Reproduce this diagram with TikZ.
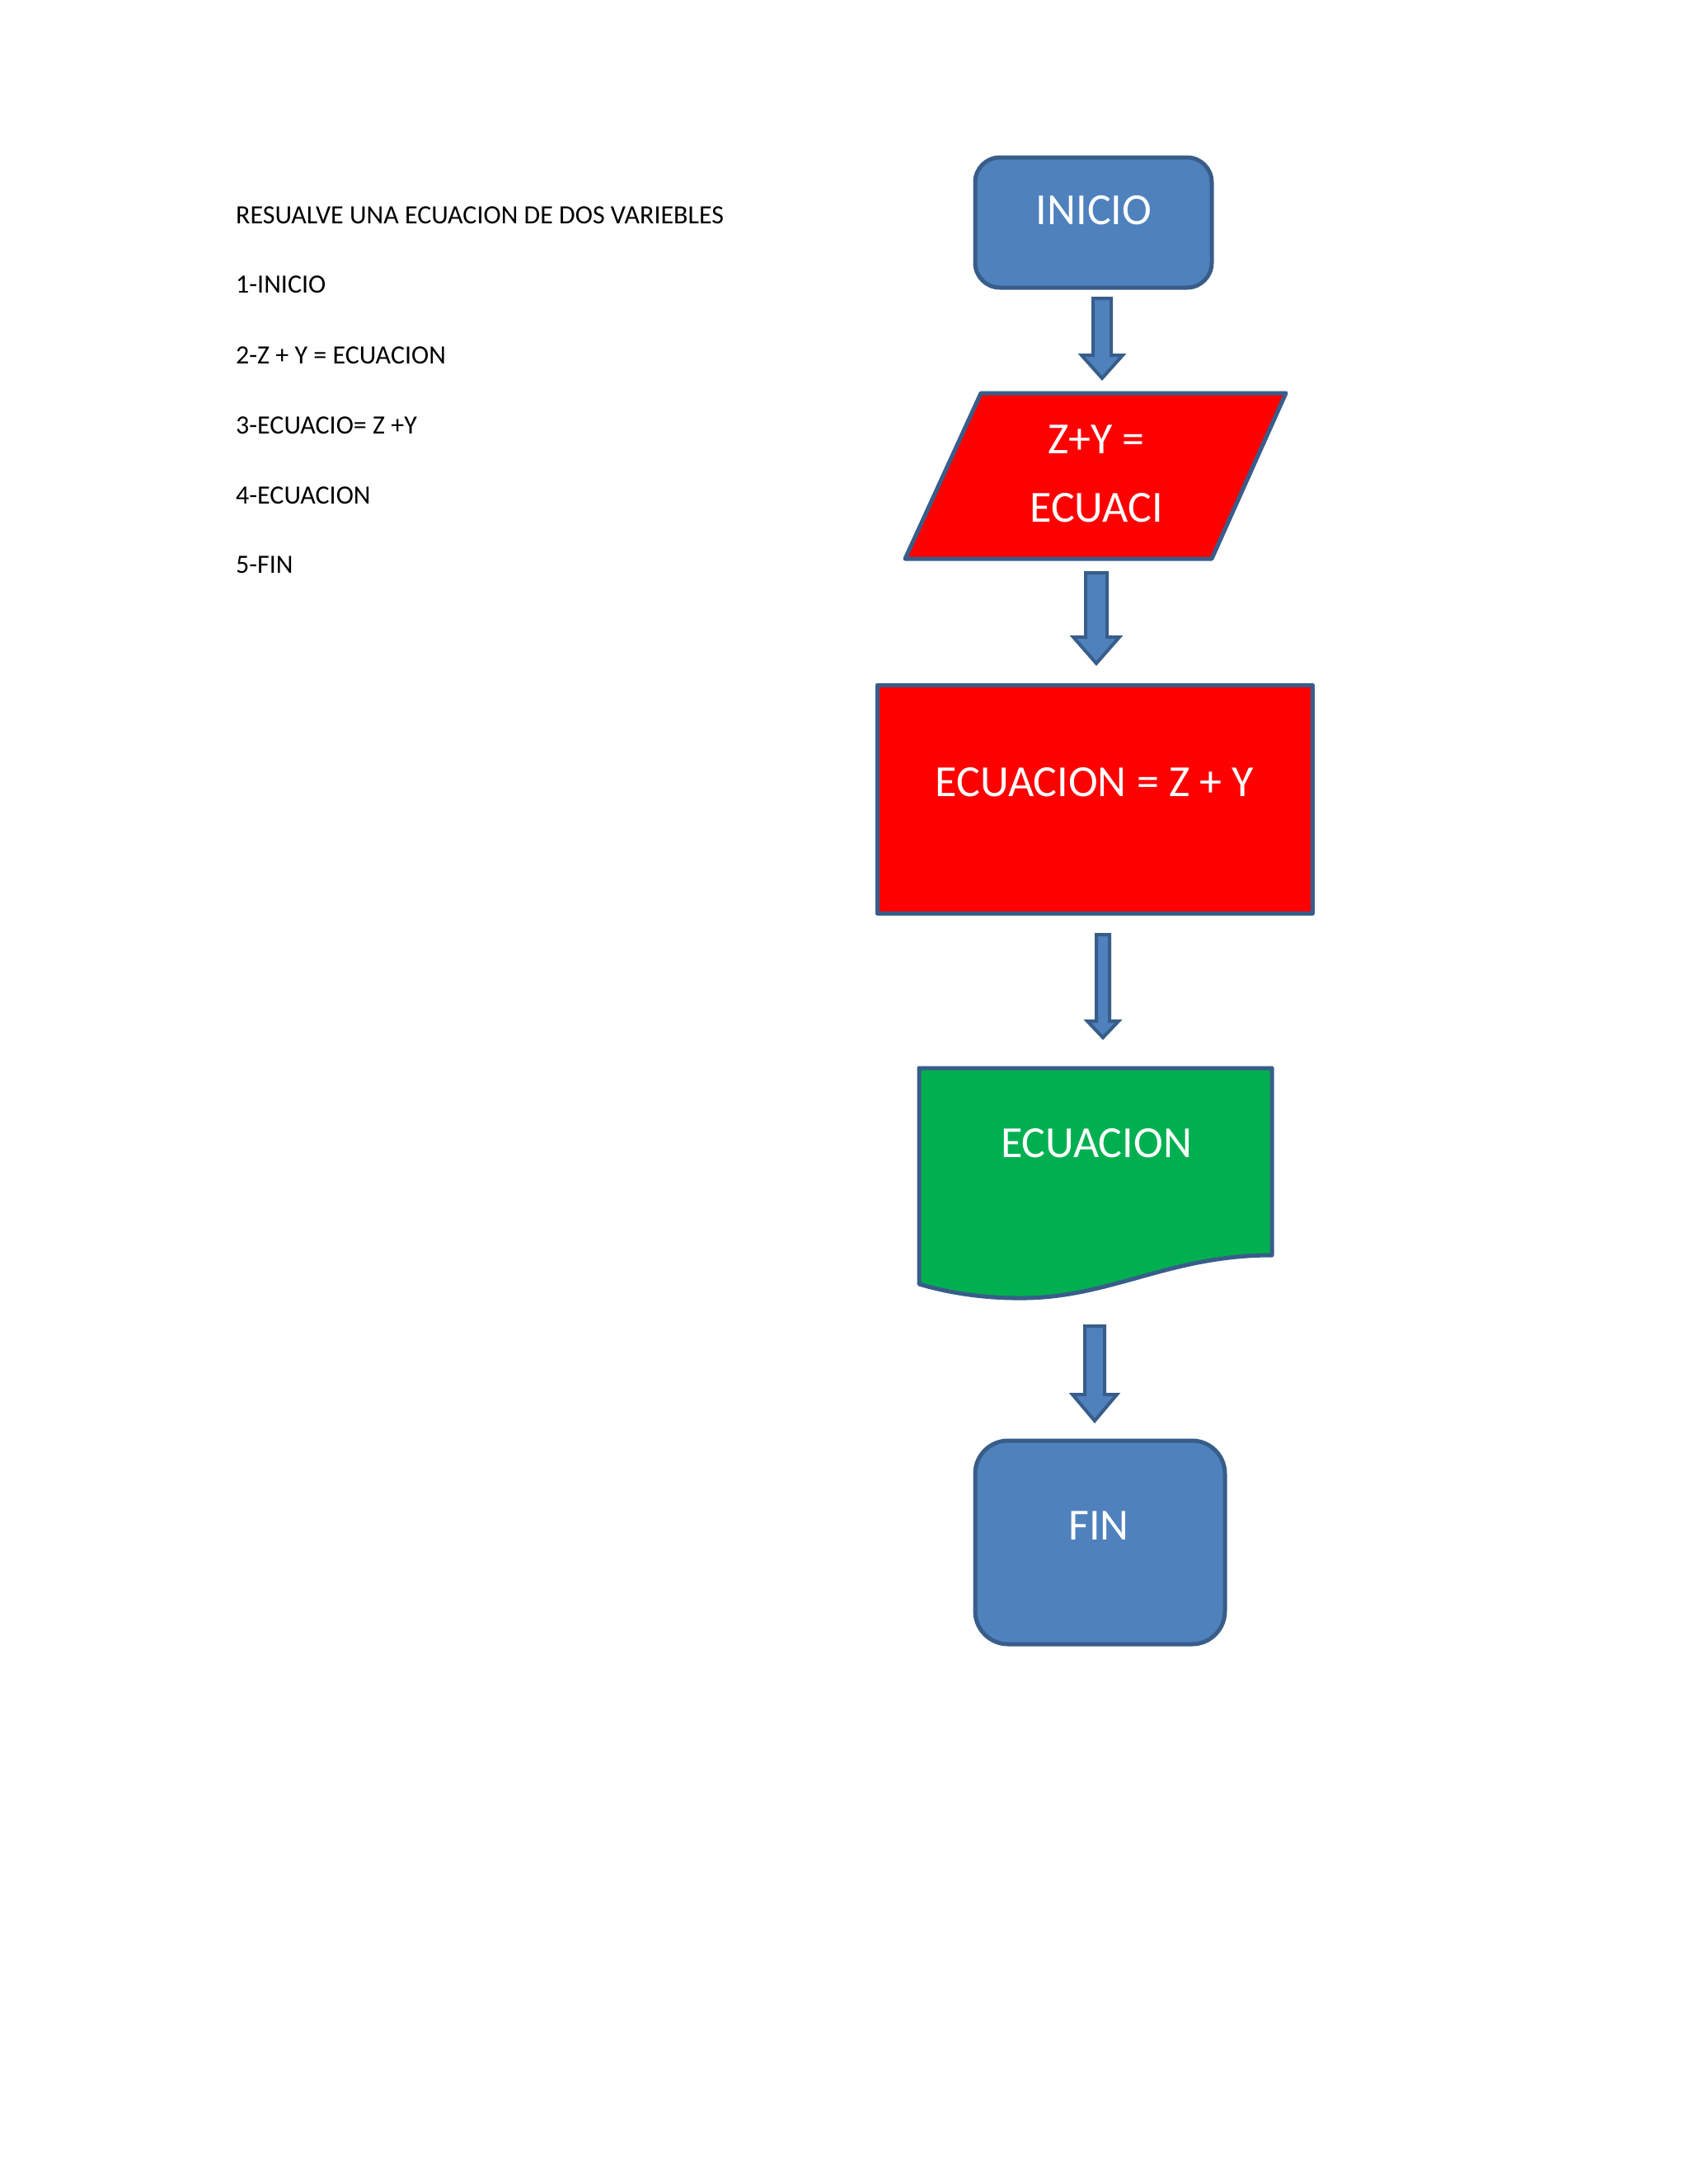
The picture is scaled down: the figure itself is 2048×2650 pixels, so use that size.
\documentclass[tikz,border=0pt]{standalone}
\usepackage{fontspec}
\setmainfont{Carlito}
\begin{document}
\begin{tikzpicture}[x=1pt,y=-1pt,
  bx/.style={draw=bord,line width=5pt,line join=round},
  wt/.style={text=white,font=\fontsize{54}{60}\selectfont,inner sep=0pt},
  lt/.style={anchor=west,font=\fontsize{32}{36}\selectfont,inner sep=0pt}]
\definecolor{bl}{HTML}{4F81BD}
\definecolor{bord}{HTML}{385D8A}
\definecolor{gr}{HTML}{00B050}
\useasboundingbox[fill=white] (0,0) rectangle (2048,2650);
% left text
\node[lt] (t0) at (286,261) {RESUALVE UNA ECUACION DE DOS VARIEBLES};
\node[lt] (t1) at (286,345) {1-INICIO};
\node[lt] (t2) at (286,431) {2-Z + Y = ECUACION};
\node[lt] (t3) at (286,516) {3-ECUACIO= Z +Y};
\node[lt] (t4) at (286,601) {4-ECUACION};
\node[lt] (t5) at (286,685) {5-FIN};
% shapes
\draw[bx,fill=bl,rounded corners=30pt] (1183,191) rectangle (1470,349);
\node[wt] (ini) at (1327,255) {INICIO};
\draw[bx,fill=red] (1190,477) -- (1560,477) -- (1470,678) -- (1098,678) -- cycle;
\node[wt] (p1) at (1330,533) {Z+Y =};
\node[wt] (p2) at (1330,616) {ECUACI};
\draw[bx,fill=red] (1064,831) rectangle (1592,1108);
\node[wt] (pr) at (1328,949) {ECUACION = Z + Y};
\draw[bx,fill=gr] (1115,1296) -- (1543,1296) -- (1543,1523) .. controls (1420,1523) and (1350,1573) .. (1245,1575) .. controls (1190,1576) and (1145,1567) .. (1115,1558) -- cycle;
\node[wt] (doc) at (1330,1387) {ECUACION};
\draw[bx,fill=bl,rounded corners=40pt] (1183,1748) rectangle (1486,1995);
\node[wt] (fin) at (1333,1851) {FIN};
% block arrows
\newcommand{\blockarrow}[6]{% x, y1, y2, half shaft, half head, head length
  \draw[draw=bord,line width=4pt,fill=bl,line join=miter]
   (#1-#4,#2) -- (#1+#4,#2) -- (#1+#4,#3-#6) -- (#1+#5,#3-#6) -- (#1,#3)
   -- (#1-#5,#3-#6) -- (#1-#4,#3-#6) -- cycle;}
\blockarrow{1337}{362}{459}{11}{25}{28}
\blockarrow{1330}{695}{805}{13}{28}{32}
\blockarrow{1338}{1134}{1259}{8}{19}{20}
\blockarrow{1328}{1609}{1724}{12}{27}{32}
\end{tikzpicture}
\end{document}
